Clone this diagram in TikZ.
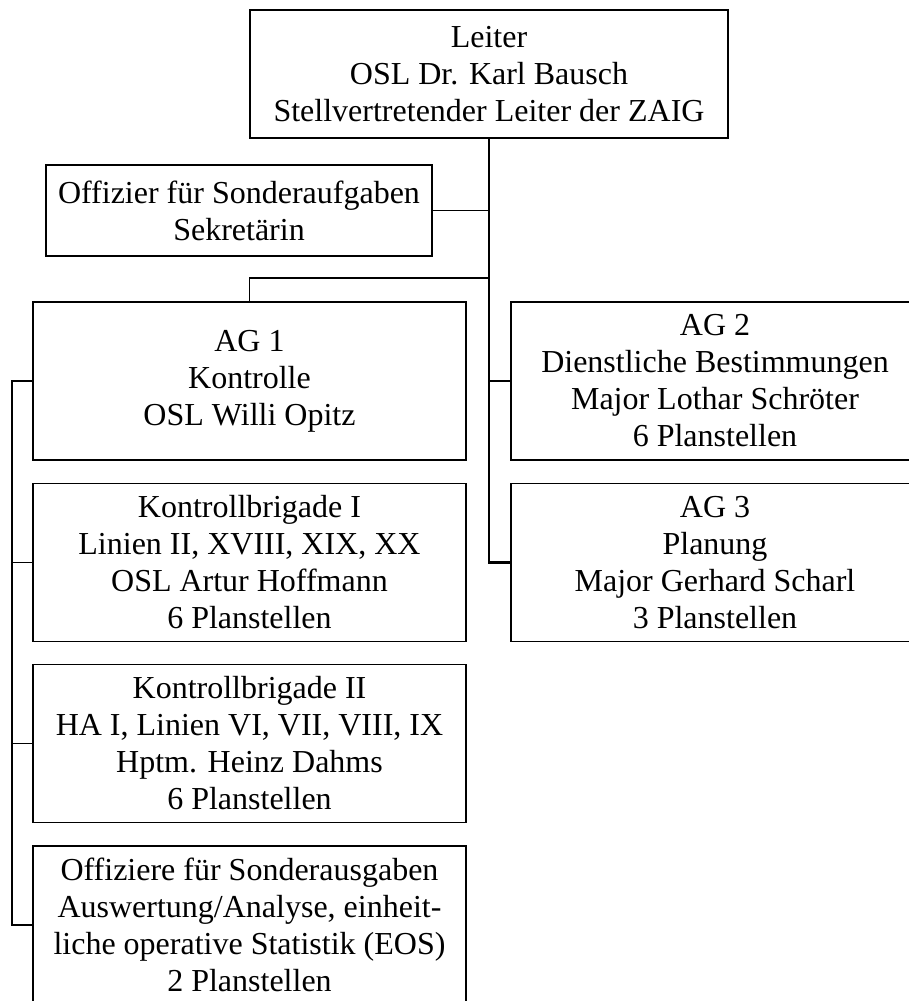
\documentclass[tikz,border=0pt]{standalone}
\usepackage{fontspec}
\setmainfont{Liberation Serif}
\usetikzlibrary{positioning}

\begin{document}
\begin{tikzpicture}[
  x=1pt, y=-1pt,
  font=\fontsize{32}{37}\selectfont,
  unit/.style={draw, line width=1.8pt, align=center, inner sep=0pt,
               minimum width=433pt, minimum height=158pt},
  link/.style={line width=1.7pt},
  spine/.style={line width=2.4pt},
]
\useasboundingbox (0,0) rectangle (909,1001);
\clip (0,0) rectangle (909,1001);

\node[unit, minimum width=478pt, minimum height=128pt] (leiter) at (489, 74)
  {Leiter\\OSL Dr. Karl Bausch\\Stellvertretender Leiter der ZAIG};
\node[unit, minimum width=386pt, minimum height=91pt] (sonder) at (239, 210.5)
  {Offizier für Sonderaufgaben\\Sekretärin};

\node[unit] (ag1) at (249.5, 381)   {AG 1\\Kontrolle\\OSL Willi Opitz};
\node[unit] (kb1) at (249.5, 562.5)
  {Kontrollbrigade I\\Linien II, XVIII, XIX, XX\\OSL Artur Hoffmann\\6 Planstellen};
\node[unit] (kb2) at (249.5, 743.5)
  {Kontrollbrigade II\\HA I, Linien VI, VII, VIII, IX\\Hptm. Heinz Dahms\\6 Planstellen};
\node[unit] (osa) at (249.5, 925)
  {Offiziere für Sonderausgaben\\Auswertung/Analyse, einheit-\\liche operative Statistik (EOS)\\2 Planstellen};

\node[unit, minimum width=408pt] (ag2) at (715, 381)
  {AG 2\\Dienstliche Bestimmungen\\Major Lothar Schröter\\6 Planstellen};
\node[unit, minimum width=408pt] (ag3) at (715, 562.5)
  {AG 3\\Planung\\Major Gerhard Scharl\\3 Planstellen};

% main trunk
\coordinate (fork) at (489, 278);
\draw[spine] (leiter.south) -- (leiter.south |- ag3.west) -- (ag3.west);
\draw[link] (sonder.east) -- (sonder.east -| leiter.south);
\draw[link] (ag1.north) |- (fork);
\draw[link] (ag2.west) -- (ag2.west -| leiter.south);

% left trunk
\coordinate (lspine) at (12, 381);
\draw[link] (ag1.west) -- (lspine) |- (osa.west);
\draw[link] (kb1.west) -- (kb1.west -| lspine);
\draw[link] (kb2.west) -- (kb2.west -| lspine);

\end{tikzpicture}
\end{document}
